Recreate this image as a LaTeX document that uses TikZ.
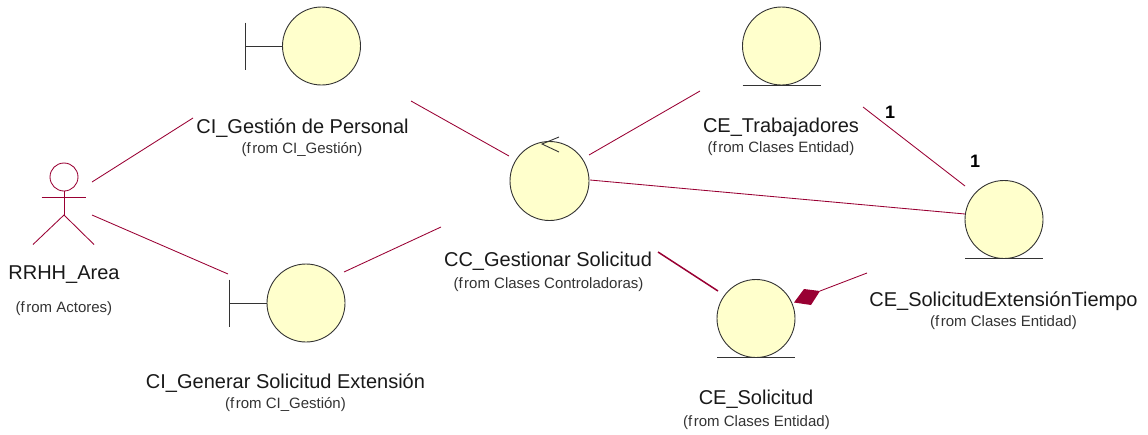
\documentclass[tikz,border=0pt]{standalone}
\usepackage{fontspec}
\usetikzlibrary{calc}
\setmainfont{Liberation Sans}
\definecolor{wine}{HTML}{990033}
\definecolor{pale}{HTML}{FFFFCC}
\definecolor{ink}{HTML}{333333}
\newcommand{\fr}{f\kern1.5pt rom}
\tikzset{
  ball/.style={circle,draw=ink,fill=pale,line width=0.9pt,minimum size=#1,inner sep=0pt,outer sep=0pt},
  glyph/.style={draw=ink,line width=0.9pt},
  link/.style={draw=wine,line width=0.85pt},
  heavy/.style={draw=wine,line width=1.5pt},
  title/.style={inner sep=0pt,font=\fontsize{20}{22}\selectfont,text=black!90},
  origin/.style={inner sep=0pt,font=\fontsize{15}{17}\selectfont,text=black!80},
  mult/.style={inner sep=0pt,font=\fontsize{18}{20}\selectfont\bfseries},
}
\begin{document}
\begin{tikzpicture}[x=1pt,y=-1pt]
\useasboundingbox (0,0) rectangle (1148,434);
% robustness shapes
\node[ball=78pt] (gestion) at (321.5,46) {};
\node[ball=78pt] (generar) at (306,303) {};
\node[ball=79pt] (control) at (549.5,181) {};
\node[ball=78pt] (trab) at (781.5,46) {};
\node[ball=78pt] (ext) at (1004,219.5) {};
\node[ball=78pt] (sol) at (756,318.5) {};
% boundary glyphs
\coordinate (gestionbar) at (245,46);
\coordinate (generarbar) at (229,303);
\draw[glyph] (gestionbar) -- (gestion.west);
\draw[glyph] ($(gestionbar)+(0,-23.5)$) -- ($(gestionbar)+(0,23.5)$);
\draw[glyph] (generarbar) -- (generar.west);
\draw[glyph] ($(generarbar)+(0,-23.5)$) -- ($(generarbar)+(0,23.5)$);
% control arrow
\coordinate (ctip) at (542,144);
\draw[glyph] (559,137) -- (ctip) -- (559,152);
% entity baselines
\draw[glyph] ($(trab.south)+(-39,0)$) -- ($(trab.south)+(39,0)$);
\draw[glyph] ($(ext.south)+(-39,0)$) -- ($(ext.south)+(39,0)$);
\draw[glyph] ($(sol.south)+(-39,0)$) -- ($(sol.south)+(39,0)$);
% actor
\node[circle,draw=wine,line width=0.85pt,minimum size=28pt,inner sep=0pt,outer sep=0pt] (actor) at (64,177) {};
\coordinate (hip) at (64,215);
\draw[link] (actor.south) -- (hip);
\draw[link] (41.5,197) -- (86,197);
\draw[link] (33,244.5) -- (hip) -- (94,244.5);
% labels
\node[title] (lgestion) at (302.5,128.5) {CI\_Gestión de Personal};
\node[origin] (ogestion) at (302,150) {(\fr\ CI\_Gestión)};
\node[title] (lactor) at (64,274.5) {RRHH\_Area};
\node[origin] (oactor) at (64,309) {(\fr\ Actores)};
\node[title] (lcontrol) at (548,261.5) {CC\_Gestionar Solicitud};
\node[origin] (ocontrol) at (548.5,285) {(\fr\ Clases Controladoras)};
\node[title] (ltrab) at (781,127.5) {CE\_Trabajadores};
\node[origin] (otrab) at (781,149) {(\fr\ Clases Entidad)};
\node[title] (lext) at (1003.5,301.5) {CE\_SolicitudExtensiónTiempo};
\node[origin] (oext) at (1003.5,323) {(\fr\ Clases Entidad)};
\node[title] (lgenerar) at (285.5,383.5) {CI\_Generar Solicitud Extensión};
\node[origin] (ogenerar) at (285.5,405) {(\fr\ CI\_Gestión)};
\node[title] (lsol) at (756,399.5) {CE\_Solicitud};
\node[origin] (osol) at (756.5,423) {(\fr\ Clases Entidad)};
\node[mult] (m1) at (890,112) {1};
\node[mult] (m2) at (975,161) {1};
% connector ends
\coordinate (a1) at (92,182);   \coordinate (g1) at (193,118);
\coordinate (a2) at (92,215);   \coordinate (n1) at (228,274);
\coordinate (g2) at (411,101);  \coordinate (c1) at (509,156);
\coordinate (n2) at (344,272);  \coordinate (c2) at (441,227);
\coordinate (c3) at (589,155);  \coordinate (t1) at (700,91);
\coordinate (c4) at (590,180);  \coordinate (e1) at (965,214);
\coordinate (t2) at (863,107);  \coordinate (e2) at (965,186);
\coordinate (c5) at (658,252);  \coordinate (s1) at (718,291);
\coordinate (s2) at (820,291);  \coordinate (e3) at (867,273);
\draw[link] (a1) -- (g1);
\draw[link] (a2) -- (n1);
\draw[link] (g2) -- (c1);
\draw[link] (n2) -- (c2);
\draw[link] (c3) -- (t1);
\draw[link] (c4) -- (e1);
\draw[link] (t2) -- (e2);
\draw[heavy] (c5) -- (s1);
\draw[link] (s2) -- (e3);
\fill[wine] (794,302.5) -- (804,289) -- (s2) -- (811,305) -- cycle;
\end{tikzpicture}
\end{document}
